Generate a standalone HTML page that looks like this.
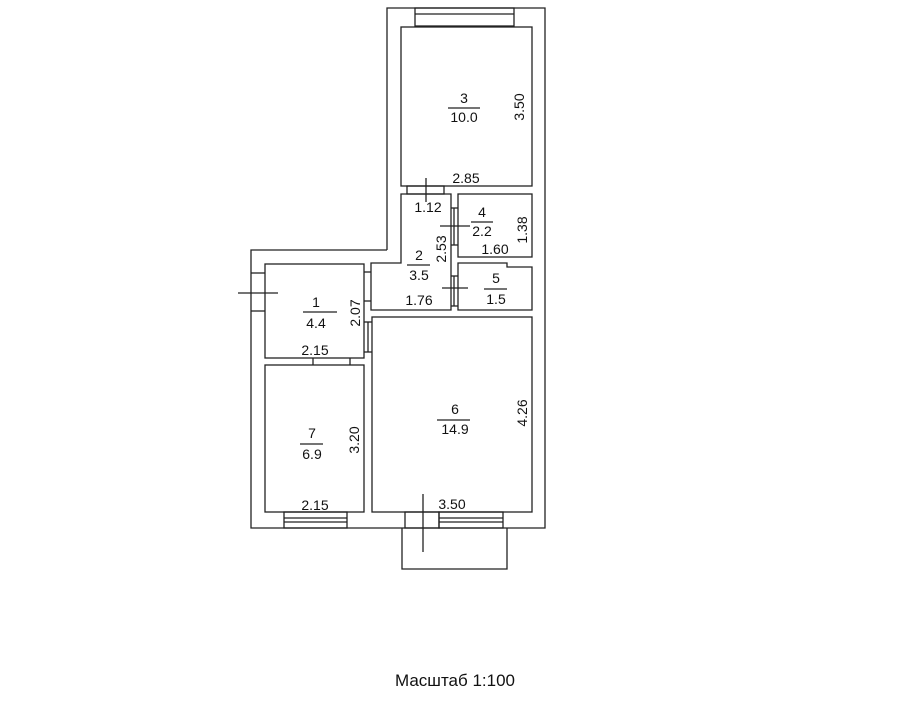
<!DOCTYPE html>
<html><head><meta charset="utf-8"><style>
html,body{margin:0;padding:0;background:#fff;}
svg{display:block}
text{font-family:"Liberation Sans",sans-serif;fill:#111;font-size:14px}
</style></head><body>
<svg width="905" height="716" viewBox="0 0 905 716" xmlns="http://www.w3.org/2000/svg">
<g fill="none" stroke="#222" stroke-width="1.3">
<polyline points="387,250 387,8 545,8 545,528 251,528 251,250 387,250"/>
<rect x="415" y="8" width="99" height="18"/>
<line x1="415" y1="14" x2="514" y2="14"/>
<rect x="401" y="27" width="131" height="159"/>
<rect x="407" y="186" width="37" height="8"/>
<line x1="426" y1="178" x2="426" y2="202"/>
<polygon points="401,194 451,194 451,310 371,310 371,263 401,263"/>
<rect x="458" y="194" width="74" height="63"/>
<line x1="451" y1="208" x2="458" y2="208"/><line x1="451" y1="245" x2="458" y2="245"/><line x1="454" y1="208" x2="454" y2="245"/>
<line x1="440" y1="226" x2="470" y2="226"/>
<polygon points="458,263 507,263 507,267 532,267 532,310 458,310"/>
<line x1="451" y1="276" x2="458" y2="276"/><line x1="451" y1="306" x2="458" y2="306"/><line x1="454" y1="276" x2="454" y2="306"/>
<line x1="442" y1="288" x2="468" y2="288"/>
<rect x="265" y="264" width="99" height="94"/>
<line x1="251" y1="273" x2="265" y2="273"/><line x1="251" y1="311" x2="265" y2="311"/>
<line x1="238" y1="293" x2="278" y2="293"/>
<line x1="364" y1="272" x2="371" y2="272"/><line x1="364" y1="301" x2="371" y2="301"/>
<line x1="364" y1="322" x2="372" y2="322"/><line x1="364" y1="352" x2="372" y2="352"/><line x1="368" y1="322" x2="368" y2="352"/>
<rect x="372" y="317" width="160" height="195"/>
<rect x="265" y="365" width="99" height="147"/>
<line x1="313" y1="358" x2="313" y2="365"/><line x1="350" y1="358" x2="350" y2="365"/>
<rect x="284" y="512" width="63" height="16"/><line x1="284" y1="518" x2="347" y2="518"/><line x1="284" y1="522" x2="347" y2="522"/>
<rect x="439" y="512" width="64" height="16"/><line x1="439" y1="518" x2="503" y2="518"/><line x1="439" y1="522" x2="503" y2="522"/>
<rect x="405" y="512" width="34" height="16"/>
<polyline points="402,528 402,569 507,569 507,528"/>
<line x1="423" y1="494" x2="423" y2="552"/>
<line x1="448" y1="108" x2="480" y2="108"/>
<line x1="471" y1="222" x2="493" y2="222"/>
<line x1="407" y1="265" x2="430" y2="265"/>
<line x1="484" y1="289" x2="507" y2="289"/>
<line x1="303" y1="312" x2="337" y2="312"/>
<line x1="437" y1="420" x2="470" y2="420"/>
<line x1="300" y1="444" x2="323" y2="444"/>
</g>
<g text-anchor="middle">
<text x="464" y="103">3</text><text x="464" y="122">10.0</text>
<text x="466" y="183">2.85</text>
<text x="428" y="212">1.12</text>
<text x="482" y="217">4</text><text x="482" y="236">2.2</text>
<text x="495" y="254">1.60</text>
<text x="419" y="260">2</text><text x="419" y="280">3.5</text>
<text x="419" y="305">1.76</text>
<text x="496" y="283">5</text><text x="496" y="304">1.5</text>
<text x="316" y="307">1</text><text x="316" y="328">4.4</text>
<text x="315" y="355">2.15</text>
<text x="455" y="414">6</text><text x="455" y="434">14.9</text>
<text x="312" y="438">7</text><text x="312" y="459">6.9</text>
<text x="315" y="510">2.15</text>
<text x="452" y="509">3.50</text>
<text transform="translate(524,107) rotate(-90)">3.50</text>
<text transform="translate(527,230) rotate(-90)">1.38</text>
<text transform="translate(446,249) rotate(-90)">2.53</text>
<text transform="translate(360,313) rotate(-90)">2.07</text>
<text transform="translate(527,413) rotate(-90)">4.26</text>
<text transform="translate(359,440) rotate(-90)">3.20</text>
<text x="455" y="686" style="font-size:17px">Масштаб 1:100</text>
</g>
</svg>
</body></html>
